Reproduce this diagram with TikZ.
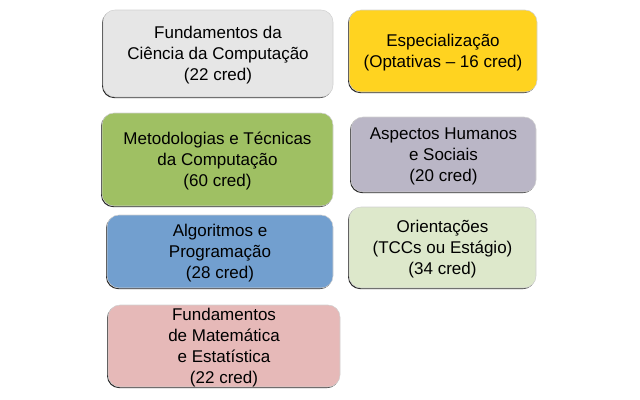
\documentclass[tikz,border=0pt]{standalone}
\usepackage{fontspec}
\setmainfont{Liberation Sans}
\usetikzlibrary{shadows}

\definecolor{cgray}{HTML}{E6E6E6}
\definecolor{cyellow}{HTML}{FFD320}
\definecolor{cgreen}{HTML}{9FC063}
\definecolor{cpurple}{HTML}{BAB6C6}
\definecolor{clight}{HTML}{DDE8CB}
\definecolor{cblue}{HTML}{729FCF}
\definecolor{cpink}{HTML}{E6B9B8}

\begin{document}
\begin{tikzpicture}[x=0.75pt,y=-0.75pt]
	\tikzstyle{area}=[draw=black!18,line width=0.4pt,rounded corners=9pt,inner sep=0pt,align=center,
		font=\fontsize{12.75}{15.75}\selectfont,text depth=-5pt,
		drop shadow={shadow xshift=-0.7pt,shadow yshift=-0.8pt,opacity=0.85,fill=black}]
	\useasboundingbox (0,0) rectangle (640,400);

	\node[area,fill=cgray,minimum width=172.5pt,minimum height=65.25pt](fcc) at (218,53.5){Fundamentos da\\Ciência da Computação\\(22 cred)};
	\node[area,fill=cyellow,minimum width=141pt,minimum height=61.5pt](esp) at (443,51){Especialização\\(Optativas -- 16 cred)};

	\node[area,fill=cgreen,minimum width=173.25pt,minimum height=69.75pt](mtc) at (217.5,159.5){Metodologias e Técnicas\\da Computação\\(60 cred)};
	\node[area,fill=cpurple,minimum width=138.75pt,minimum height=56.25pt](ahs) at (443.5,154.5){Aspectos Humanos\\e Sociais\\(20 cred)};

	\node[area,fill=cblue,minimum width=169.5pt,minimum height=54.75pt](alg) at (220,251.5){Algoritmos e\\Programação\\(28 cred)};
	\node[area,fill=clight,minimum width=140.25pt,minimum height=60.75pt](ori) at (442.5,247.5){Orientações\\(TCCs ou Estágio)\\(34 cred)};

	\node[area,fill=cpink,minimum width=174pt,minimum height=61.5pt](fme) at (224,346){Fundamentos\\de Matemática\\e Estatística\\(22 cred)};
\end{tikzpicture}
\end{document}
